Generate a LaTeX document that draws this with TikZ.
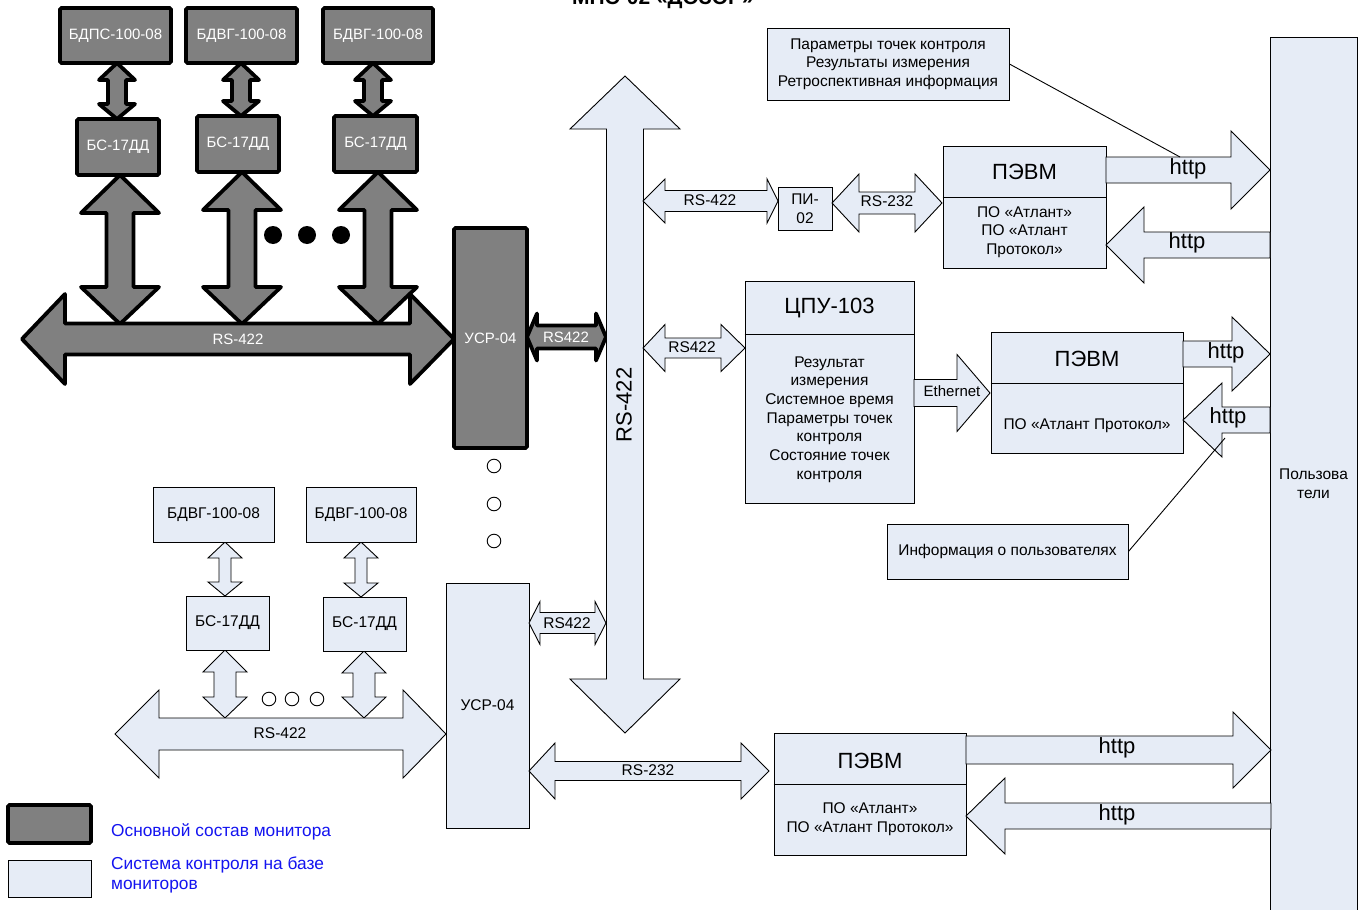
\documentclass[tikz,border=0pt]{standalone}
\usepackage{fontspec}
\setmainfont{Liberation Sans}
\definecolor{lite}{RGB}{230,236,246}
\definecolor{dark}{RGB}{128,128,128}
\definecolor{legblue}{RGB}{20,20,240}
% double arrow, horizontal: [style]{x1}{x2}{y}{shaft half}{head half}{head len 1}{head len 2}
\newcommand\dah[8][]{\draw[#1] (#2,#4) -- ({#2+#7},{#4-#6}) -- ({#2+#7},{#4-#5}) -- ({#3-#8},{#4-#5}) -- ({#3-#8},{#4-#6}) -- (#3,#4) -- ({#3-#8},{#4+#6}) -- ({#3-#8},{#4+#5}) -- ({#2+#7},{#4+#5}) -- ({#2+#7},{#4+#6}) -- cycle;}
% double arrow, vertical: [style]{x}{y1}{y2}{shaft half}{head half}{head len 1}{head len 2}
\newcommand\dav[8][]{\draw[#1] (#2,#3) -- ({#2+#6},{#3+#7}) -- ({#2+#5},{#3+#7}) -- ({#2+#5},{#4-#8}) -- ({#2+#6},{#4-#8}) -- (#2,#4) -- ({#2-#6},{#4-#8}) -- ({#2-#5},{#4-#8}) -- ({#2-#5},{#3+#7}) -- ({#2-#6},{#3+#7}) -- cycle;}
% single arrow, horizontal: [style]{xtail}{xtip}{y}{shaft half}{head half}{signed head len}
\newcommand\sah[7][]{\draw[#1] (#2,{#4-#5}) -- ({#3-(#7)},{#4-#5}) -- ({#3-(#7)},{#4-#6}) -- (#3,#4) -- ({#3-(#7)},{#4+#6}) -- ({#3-(#7)},{#4+#5}) -- (#2,{#4+#5}) -- cycle;}
% box by corners
\newcommand\bx[7]{\node[#2,minimum width={#5-#3},minimum height={#6-#4}] (#1) at ({(#3+#5)/2},{(#4+#6)/2}) {#7};}
\begin{document}
\begin{tikzpicture}[x=1pt,y=-1pt,
  darkbox/.style={draw=black,line width=3.8pt,fill=dark,rounded corners=1.5pt,text=white,inner sep=0pt,align=center,font=\fontsize{15}{18}\selectfont},
  litebox/.style={draw=black,line width=0.9pt,fill=lite,inner sep=0pt,align=center,font=\fontsize{15.5}{18.7}\selectfont},
  darkarrow/.style={draw=black,line width=3.8pt,fill=dark,line join=round},
  litearrow/.style={draw=black,line width=0.9pt,fill=lite},
  wlab/.style={text=white,inner sep=0pt,font=\fontsize{15}{18}\selectfont},
  lab/.style={inner sep=0pt,font=\fontsize{15.5}{18}\selectfont},
  big/.style={inner sep=0pt,font=\fontsize{22}{26}\selectfont},
  body/.style={inner sep=0pt,align=center,font=\fontsize{15.5}{18.7}\selectfont},
  hole/.style={draw=black,line width=0.9pt,fill=white},
  legtext/.style={text=legblue,inner sep=0pt,align=left,font=\fontsize{17.3}{20}\selectfont}]
\useasboundingbox (0,0) rectangle (1366,910);
\fill[white] (0,0) rectangle (1366,910);

% title (cut at top, as in the reference)
\node[anchor=base,inner sep=0pt,font=\bfseries\fontsize{21}{24}\selectfont] (title) at (663,5) {МПС-02 «ДОЗОР»};

% ---------- dark part ----------
\dav[darkarrow]{117}{63}{119}{9}{18}{17}{15}
\dav[darkarrow]{241}{63}{116}{9}{18}{17}{15}
\dav[darkarrow]{373}{63}{116}{9}{18}{17}{15}
\dav[darkarrow]{120}{175}{324}{13.5}{39}{38}{37}
\dav[darkarrow]{242}{172}{324}{13.5}{39}{38}{37}
\dav[darkarrow]{378}{172}{324}{13.5}{39}{38}{37}
\dah[darkarrow]{22}{454}{339}{15.5}{45}{43}{44}
\dah[darkarrow]{527}{606}{337}{11.5}{23.5}{10}{10}

\bx{d1}{darkbox}{60}{8}{171}{63}{БДПС-100-08}
\bx{d2}{darkbox}{186}{8}{297}{63}{БДВГ-100-08}
\bx{d3}{darkbox}{323}{8}{433}{63}{БДВГ-100-08}
\bx{b1}{darkbox}{77}{119}{159}{175}{БС-17ДД}
\bx{b2}{darkbox}{197}{116}{279}{172}{БС-17ДД}
\bx{b3}{darkbox}{334}{116}{417}{172}{БС-17ДД}
\bx{usr1}{darkbox}{454}{228}{527}{448}{УСР-04}

\node[wlab] (busl) at (238,339) {RS-422};
\node[wlab] (rsd) at (566,337) {RS422};
\foreach \xx in {273,307,341} \fill[black] (\xx,235) circle (9);
\foreach \yy in {466,504,541} \draw[hole] (494,\yy) circle (6.8);

% ---------- big RS-422 trunk ----------
\dav[litearrow]{625}{76}{733}{18.5}{55}{53}{54}
\node[big,rotate=90] (trunk) at (624,405) {RS-422};

% ---------- top right chain ----------
\dah[litearrow]{643}{778}{201}{10.5}{22}{22}{11}
\node[lab] (l1) at (710,200) {RS-422};
\bx{pi}{litebox}{778}{187}{832}{230}{ПИ-\\02}
\dah[litearrow]{832}{942}{203}{11}{29}{27}{27}
\node[lab] (l2) at (887,201) {RS-232};
\bx{pevm1}{litebox}{943}{146}{1106}{268}{}
\draw[line width=0.9pt] (pevm1.west |- 0,197) -- (pevm1.east |- 0,197);
\node[big] (p1t) at (1024.5,172) {ПЭВМ};
\node[body] (p1b) at (1024.5,232) {ПО «Атлант»\\ПО «Атлант\\Протокол»};

\bx{users}{litebox}{1270}{37}{1357}{930}{Пользова\\тели}

\sah[litearrow]{1106}{1270}{170}{13}{39}{39}
\node[big] (h1) at (1188,169) {http};
\sah[litearrow]{1270}{1106}{245}{13}{38}{-38}
\node[big] (h2) at (1187,243) {http};

\bx{callout}{litebox}{767}{28}{1009}{100}{Параметры точек контроля\\Результаты измерения\\Ретроспективная информация}
\coordinate (cend) at (1180,157);
\draw[line width=0.9pt] (callout.east) -- (cend);

% ---------- CPU chain ----------
\dah[litearrow]{643}{745}{348}{10}{23.5}{22}{24}
\node[lab] (l3) at (692,347) {RS422};
\bx{cpu}{litebox}{745}{281}{914}{503}{}
\draw[line width=0.9pt] (cpu.west |- 0,334) -- (cpu.east |- 0,334);
\node[big] (ct) at (829.5,308) {ЦПУ-103};
\node[body] (cb) at (829.5,419.5) {Результат\\измерения\\Системное время\\Параметры точек\\контроля\\Состояние точек\\контроля};
\sah[litearrow]{914}{990}{393}{13.5}{38.5}{33}
\node[lab,font=\fontsize{15}{18}\selectfont] (eth) at (952,391) {Ethernet};
\bx{pevm2}{litebox}{991}{332}{1183}{453}{}
\draw[line width=0.9pt] (pevm2.west |- 0,383) -- (pevm2.east |- 0,383);
\node[big] (p2t) at (1087,359) {ПЭВМ};
\node[body] (p2b) at (1087,426) {ПО «Атлант Протокол»};
\sah[litearrow]{1183}{1270}{354}{13}{37}{38}
\node[big] (h3) at (1226,353) {http};
\sah[litearrow]{1270}{1183}{420}{13}{37}{-39}
\node[big] (h4) at (1228,418) {http};

\bx{info}{litebox}{887}{524}{1128}{579}{Информация о пользователях}
\coordinate (iend) at (1225,438);
\draw[line width=0.9pt] (info.east) -- (iend);

% ---------- lower-left light part ----------
\dav[litearrow]{225}{542}{596}{6}{17}{16}{14}
\dav[litearrow]{361}{542}{597}{6}{17}{16}{14}
\dav[litearrow]{225}{650}{718}{11}{22}{22}{21}
\dav[litearrow]{364}{651}{718}{11}{22}{22}{21}
\dah[litearrow]{115}{446}{734}{16}{44}{44}{43}
\node[lab] (l4) at (280,733) {RS-422};
\foreach \xx in {269,292,317} \draw[hole] (\xx,699) circle (6.8);

\bx{e1}{litebox}{153}{487}{274}{542}{БДВГ-100-08}
\bx{e2}{litebox}{306}{487}{416}{542}{БДВГ-100-08}
\bx{f1}{litebox}{186}{596}{269}{650}{БС-17ДД}
\bx{f2}{litebox}{323}{597}{406}{651}{БС-17ДД}
\bx{usr2}{litebox}{446}{583}{529}{828}{УСР-04}

\dah[litearrow]{529}{606}{623}{10.5}{21.5}{11}{11}
\node[lab] (l5) at (567,623) {RS422};
\dah[litearrow]{529}{769}{771}{9.5}{28}{26}{28}
\node[lab] (l6) at (648,770) {RS-232};

\bx{pevm3}{litebox}{774}{733}{966}{855}{}
\draw[line width=0.9pt] (pevm3.west |- 0,784) -- (pevm3.east |- 0,784);
\node[big] (p3t) at (870,761) {ПЭВМ};
\node[body] (p3b) at (870,819.5) {ПО «Атлант»\\ПО «Атлант Протокол»};
\sah[litearrow]{966}{1271}{750}{14}{38}{38}
\node[big] (h5) at (1117,748) {http};
\sah[litearrow]{1271}{966}{816}{13}{38}{-39}
\node[big] (h6) at (1117,815) {http};

% ---------- legend ----------
\bx{legd}{darkbox}{8}{805}{91}{843}{}
\bx{legl}{litebox}{8}{860}{91}{897}{}
\node[legtext,anchor=west] (legdt) at (111,832) {Основной состав монитора};
\node[legtext,anchor=north west] (leglt) at (111,857) {Система контроля на базе\\мониторов};
\end{tikzpicture}
\end{document}
